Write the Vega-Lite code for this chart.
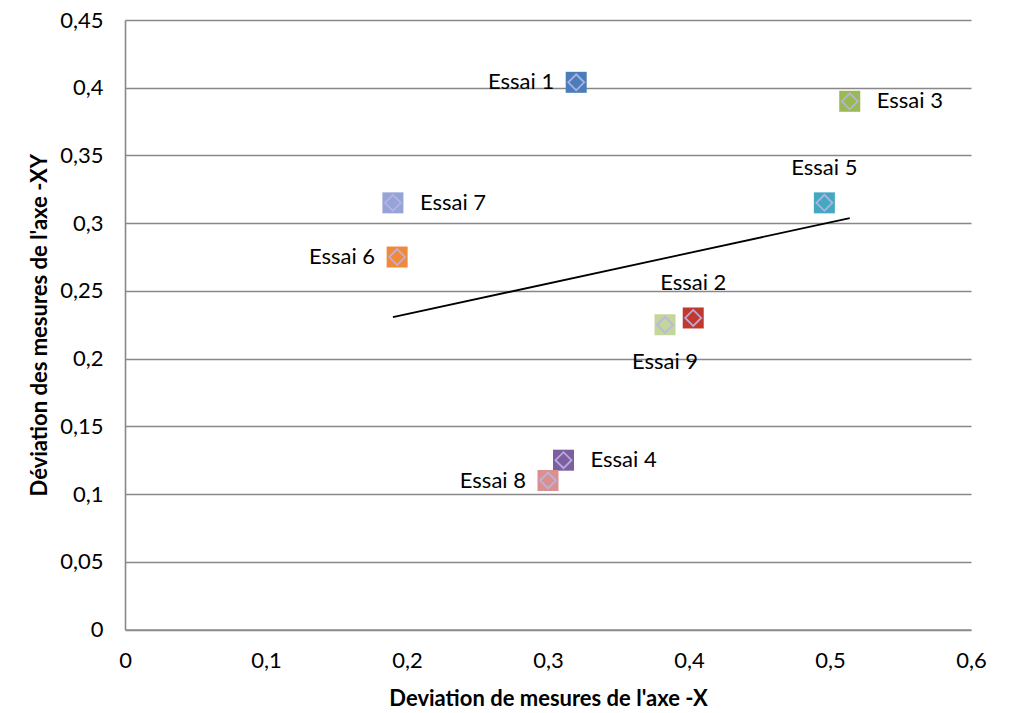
{
  "$schema": "https://vega.github.io/schema/vega-lite/v6.json",
  "width": 846,
  "height": 609.5,
  "autosize": "none",
  "padding": {"left": 125, "top": 20, "right": 53, "bottom": 83.5},
  "background": "white",
  "config": {
    "view": {"stroke": null},
    "font": "Lato",
    "text": {"font": "Lato"}
  },
  "datasets": {
    "pts": [
      {"essai": "Essai 1", "x": 0.32, "y": 0.404},
      {"essai": "Essai 2", "x": 0.403, "y": 0.23},
      {"essai": "Essai 3", "x": 0.514, "y": 0.39},
      {"essai": "Essai 4", "x": 0.311, "y": 0.125},
      {"essai": "Essai 5", "x": 0.496, "y": 0.315},
      {"essai": "Essai 6", "x": 0.193, "y": 0.275},
      {"essai": "Essai 7", "x": 0.19, "y": 0.315},
      {"essai": "Essai 8", "x": 0.30, "y": 0.11},
      {"essai": "Essai 9", "x": 0.383, "y": 0.225}
    ],
    "trend": [
      {"x": 0.19, "y": 0.2306},
      {"x": 0.514, "y": 0.3037}
    ]
  },
  "encoding": {
    "x": {
      "field": "x", "type": "quantitative",
      "scale": {"domain": [0, 0.6], "nice": false, "zero": false},
      "axis": {
        "values": [0, 0.1, 0.2, 0.3, 0.4, 0.5, 0.6],
        "grid": false, "ticks": false,
        "domainColor": "#8c8c8c", "domainWidth": 1.5,
        "labelExpr": "replace(format(datum.value, '~g'), '.', ',')",
        "labelFontSize": 22, "labelColor": "#000000", "labelPadding": 21,
        "labelFlush": false, "labelOverlap": false,
        "title": "Deviation de mesures de l'axe -X",
        "titleFontSize": 22, "titleFontWeight": "bold", "titleColor": "#000000",
        "titleY": 68.5, "titleBaseline": "middle"
      }
    },
    "y": {
      "field": "y", "type": "quantitative",
      "scale": {"domain": [0, 0.45], "nice": false, "zero": false},
      "axis": {
        "values": [0, 0.05, 0.1, 0.15, 0.2, 0.25, 0.3, 0.35, 0.4, 0.45],
        "grid": true, "gridColor": "#888888", "gridWidth": 1.6,
        "ticks": false,
        "domainColor": "#888888", "domainWidth": 1.6,
        "labelExpr": "replace(format(datum.value, '~g'), '.', ',')",
        "labelFontSize": 22, "labelColor": "#000000", "labelPadding": 22,
        "labelFlush": false, "labelOverlap": false,
        "title": "Déviation des mesures de l'axe -XY",
        "titleFontSize": 22, "titleFontWeight": "bold", "titleColor": "#000000",
        "titleAngle": -90, "titleX": -86, "titleY": 304.75,
        "titleBaseline": "middle", "titleAlign": "center"
      }
    }
  },
  "layer": [
    {
      "data": {"name": "trend"},
      "mark": {"type": "line", "color": "#000000", "strokeWidth": 1.8}
    },
    {
      "data": {"name": "pts"},
      "mark": {"type": "square", "filled": true, "size": 441, "opacity": 1},
      "encoding": {
        "color": {
          "field": "essai", "type": "nominal", "legend": null,
          "scale": {
            "domain": ["Essai 1", "Essai 2", "Essai 3", "Essai 4", "Essai 5", "Essai 6", "Essai 7", "Essai 8", "Essai 9"],
            "range": ["#4a7ebb", "#c0392f", "#98b954", "#7d5fa0", "#44a8c0", "#f08a3a", "#95a4d6", "#d8918e", "#c3d69b"]
          }
        }
      }
    },
    {
      "data": {"name": "pts"},
      "mark": {"type": "point", "shape": "diamond", "filled": false, "size": 256, "stroke": "#bdb3e8", "strokeWidth": 1.8, "opacity": 0.9}
    },
    {
      "data": {"name": "pts"},
      "transform": [{"filter": {"field": "essai", "oneOf": ["Essai 1", "Essai 6", "Essai 8"]}}],
      "mark": {"type": "text", "align": "right", "baseline": "middle", "dx": -22, "fontSize": 22, "color": "#000000"},
      "encoding": {"text": {"field": "essai"}}
    },
    {
      "data": {"name": "pts"},
      "transform": [{"filter": {"field": "essai", "oneOf": ["Essai 3", "Essai 7", "Essai 4"]}}],
      "mark": {"type": "text", "align": "left", "baseline": "middle", "dx": 27, "fontSize": 22, "color": "#000000"},
      "encoding": {"text": {"field": "essai"}}
    },
    {
      "data": {"name": "pts"},
      "transform": [{"filter": {"field": "essai", "oneOf": ["Essai 5", "Essai 2"]}}],
      "mark": {"type": "text", "align": "center", "baseline": "middle", "dy": -35, "fontSize": 22, "color": "#000000"},
      "encoding": {"text": {"field": "essai"}}
    },
    {
      "data": {"name": "pts"},
      "transform": [{"filter": {"field": "essai", "oneOf": ["Essai 9"]}}],
      "mark": {"type": "text", "align": "center", "baseline": "middle", "dy": 37, "fontSize": 22, "color": "#000000"},
      "encoding": {"text": {"field": "essai"}}
    },
    {
      "data": {"values": [{"label": "y = 0,2257x + 0,1877"}]},
      "mark": {"type": "text", "align": "left", "baseline": "middle", "fontSize": 21, "color": "#000000"},
      "encoding": {
        "x": {"datum": 0.4135, "type": "quantitative"},
        "y": {"datum": 0.081, "type": "quantitative"},
        "text": {"field": "label"}
      }
    }
  ]
}
